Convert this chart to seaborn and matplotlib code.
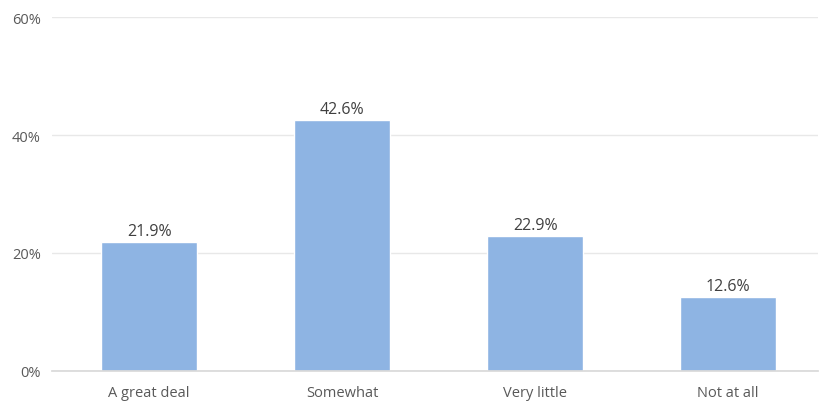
import matplotlib
matplotlib.use("Agg")
import matplotlib.pyplot as plt
import seaborn as sns
import pandas as pd
from matplotlib.ticker import FuncFormatter

categories = ["A great deal", "Somewhat", "Very little", "Not at all"]
values = [21.9, 42.6, 22.9, 12.6]
yticks = [0, 20, 40, 60]

sns.set_theme(style="white")
plt.rcParams['font.family'] = ['Open Sans', 'DejaVu Sans']

df = pd.DataFrame({"cat": categories, "val": values})
fig = plt.figure(figsize=(8.21, 4.02), dpi=100)
ax = fig.add_axes([52 / 821, 0.075, 766 / 821, 0.88])
sns.barplot(data=df, x="cat", y="val", color="#8EB4E3", saturation=1, width=0.5, ax=ax)
ax.set_xlim(-0.503, 3.466)
ax.set_ylim(0, 60)
ax.set_yticks(yticks)
ax.yaxis.set_major_formatter(FuncFormatter(lambda v, p: f"{v:.0f}%"))
ax.grid(axis="y", color="#e8e8e8", linewidth=1)
ax.set_axisbelow(True)
for s in ["top", "right", "left"]:
    ax.spines[s].set_visible(False)
ax.spines["bottom"].set_color("#d9d9d9")
ax.tick_params(axis="both", length=0, labelsize=10.5, colors="#595959", pad=8)
ax.tick_params(axis="x", pad=10)
ax.set_xlabel("")
ax.set_ylabel("")
for i, v in enumerate(values):
    ax.text(i, v + 0.4, f"{v}%", ha="center", va="bottom", fontsize=11.5, color="#404040")
fig.savefig("out.png", dpi=100)
